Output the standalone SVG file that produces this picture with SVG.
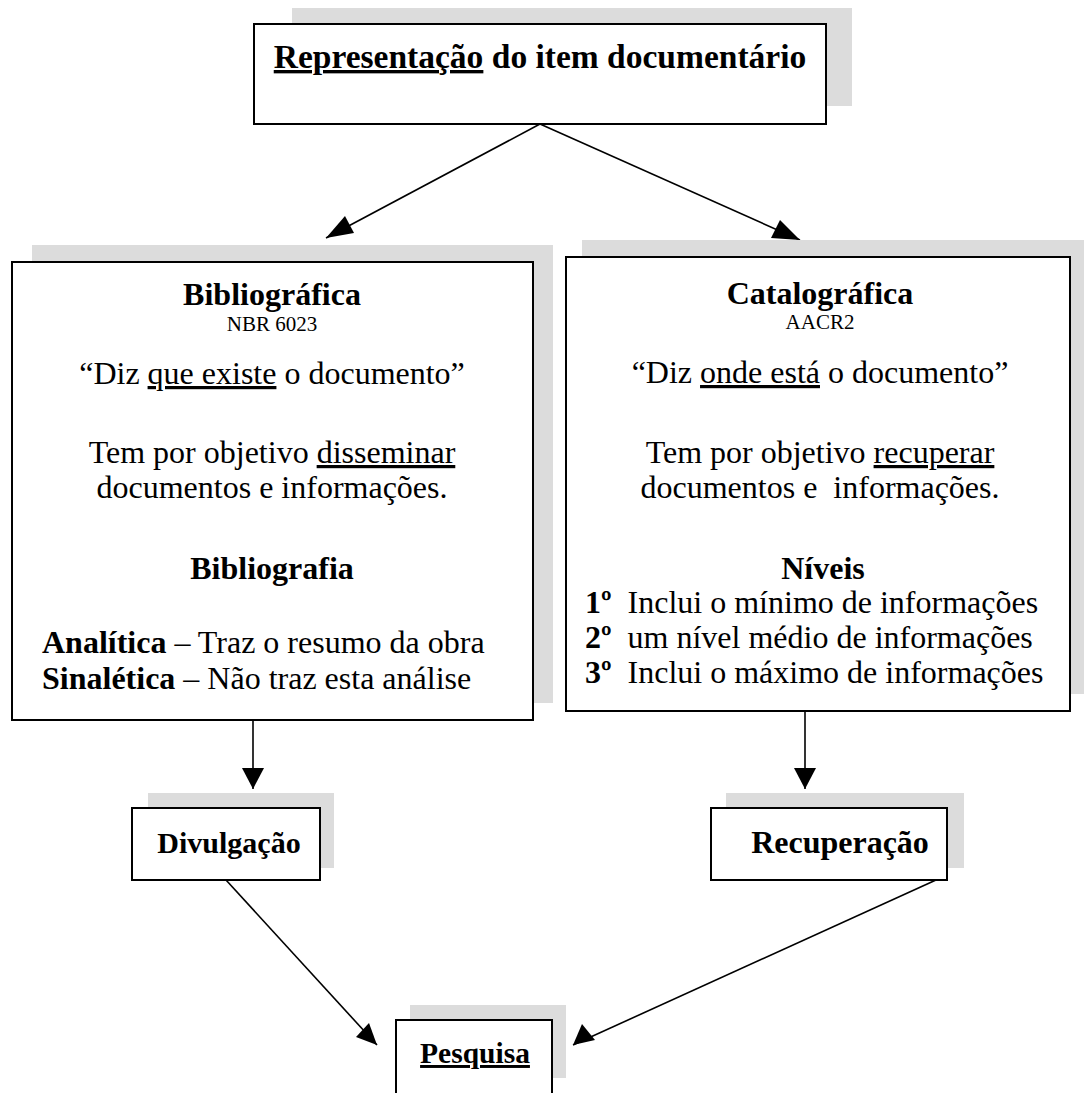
<svg xmlns="http://www.w3.org/2000/svg" width="1084" height="1093" viewBox="0 0 1084 1093">
<defs>
<style>
.sh{fill:#dcdcdc;stroke:none}
.bx{fill:#fff;stroke:#000;stroke-width:2}
.t{font-family:"Liberation Serif","Times New Roman",Times,serif;font-size:32px;fill:#000;text-anchor:middle}
.b{font-weight:bold}
.s{font-size:21px}
.l{text-anchor:start}
.u{text-decoration:underline}
.c{stroke:#000;stroke-width:1.6;fill:none}
</style>
</defs>
<rect width="1084" height="1093" fill="#fff"/>

<g id="connectors">
<line class="c" x1="540" y1="124" x2="326" y2="238"/>
<line class="c" x1="540" y1="124" x2="800" y2="240"/>
<line class="c" x1="253" y1="720" x2="253" y2="789"/>
<line class="c" x1="805" y1="711" x2="805" y2="789"/>
<line class="c" x1="226" y1="880" x2="377" y2="1045"/>
<line class="c" x1="936" y1="880" x2="573" y2="1045"/>
<path d="M326,238 L345,216 L354,233 Z" fill="#000"/>
<path d="M800,240 L771,238 L780,220 Z" fill="#000"/>
<path d="M253,789 L242,768 L264,768 Z" fill="#000"/>
<path d="M805,789 L794,768 L816,768 Z" fill="#000"/>
<path d="M377,1045 L356,1037 L369,1023 Z" fill="#000"/>
<path d="M573,1045 L582,1024 L595,1040 Z" fill="#000"/>
</g>

<g id="node-top">
<rect class="sh" x="292" y="8" width="560" height="98"/>
<rect class="bx" x="254" y="24" width="572" height="100"/>
<text class="t b" x="540" y="68" style="font-size:33.5px"><tspan class="u">Representação</tspan> do item documentário</text>
</g>

<g id="node-bibliografica">
<rect class="sh" x="32" y="245" width="521" height="458"/>
<rect class="bx" x="12" y="262" width="521" height="458"/>
<text class="t b" x="272" y="305">Bibliográfica</text>
<text class="t s" x="272" y="331">NBR 6023</text>
<text class="t" x="272" y="384">“Diz <tspan class="u">que existe</tspan> o documento”</text>
<text class="t" x="272" y="463">Tem por objetivo <tspan class="u">disseminar</tspan></text>
<text class="t" x="272" y="498">documentos e informações.</text>
<text class="t b" x="272" y="579">Bibliografia</text>
<text class="t l" x="42" y="653"><tspan class="b">Analítica</tspan> – Traz o resumo da obra</text>
<text class="t l" x="42" y="689"><tspan class="b">Sinalética</tspan> – Não traz esta análise</text>
</g>

<g id="node-catalografica">
<rect class="sh" x="582" y="240" width="502" height="454"/>
<rect class="bx" x="566" y="257" width="504" height="454"/>
<text class="t b" x="820" y="304">Catalográfica</text>
<text class="t s" x="820" y="329">AACR2</text>
<text class="t" x="820" y="383">“Diz <tspan class="u">onde está</tspan> o documento”</text>
<text class="t" x="820" y="463">Tem por objetivo <tspan class="u">recuperar</tspan></text>
<text class="t" x="820" y="498" xml:space="preserve">documentos e  informações.</text>
<text class="t b" x="823" y="579">Níveis</text>
<text class="t l" x="585" y="613" xml:space="preserve"><tspan class="b">1º</tspan>  Inclui o mínimo de informações</text>
<text class="t l" x="585" y="648" xml:space="preserve"><tspan class="b">2º</tspan>  um nível médio de informações</text>
<text class="t l" x="585" y="683" xml:space="preserve"><tspan class="b">3º</tspan>  Inclui o máximo de informações</text>
</g>

<g id="node-divulgacao">
<rect class="sh" x="148" y="793" width="186" height="75"/>
<rect class="bx" x="132" y="808" width="188" height="72"/>
<text class="t b" x="229" y="853" style="font-size:30px">Divulgação</text>
</g>

<g id="node-recuperacao">
<rect class="sh" x="726" y="793" width="238" height="75"/>
<rect class="bx" x="711" y="808" width="236" height="72"/>
<text class="t b" x="840" y="853">Recuperação</text>
</g>

<g id="node-pesquisa">
<rect class="sh" x="410" y="1005" width="156" height="73"/>
<rect class="bx" x="396" y="1020" width="156" height="80"/>
<text class="t b" x="475" y="1063" style="font-size:29.5px"><tspan class="u">Pesquisa</tspan></text>
</g>
</svg>
